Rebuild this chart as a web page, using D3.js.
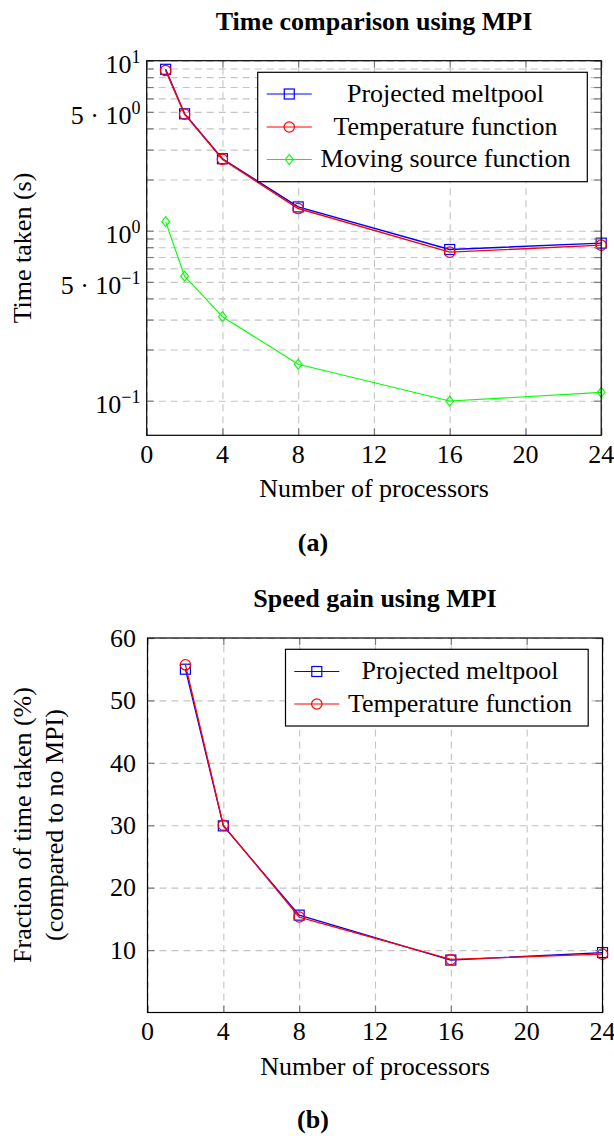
<!DOCTYPE html>
<html><head><meta charset="utf-8">
<script src="https://cdn.jsdelivr.net/npm/d3@7"></script>
<style>
body{margin:0;background:#fff;}
text{font-family:"Liberation Serif","Times New Roman",serif;fill:#000;}
</style>
</head><body>
<svg id="c" width="614" height="1136" font-family="Liberation Serif, serif"></svg>
<script>
// ---------- data ----------
const procs = [1, 2, 4, 8, 16, 24];
const projectedTime = [8.9, 4.87, 2.65, 1.38, 0.775, 0.845];
const temperatureTime = [8.75, 4.85, 2.63, 1.35, 0.748, 0.822];
const movingSourceTime = [1.13, 0.54, 0.312, 0.164, 0.0995, 0.112];

const gainProcs = [2, 4, 8, 16, 24];
const projectedGain = [55.0, 29.9, 15.6, 8.4, 9.6];
const temperatureGain = [55.7, 30.0, 15.3, 8.5, 9.35];

const xTickValues = [0, 4, 8, 12, 16, 20, 24];
const timeTickValues = [0.1, 0.5, 1, 5, 10];
const timeTickBase = ["10", "5 · 10", "10", "5 · 10", "10"];
const timeTickExp = ["−1", "−1", "0", "0", "1"];
const timeGridValues = [0.1, 0.2, 0.3, 0.4, 0.5, 0.6, 0.7, 0.8, 0.9, 1, 2, 3, 4, 5, 6, 7, 8, 9, 10];
const gainTickValues = [10, 20, 30, 40, 50, 60];

const seriesNames = ["Projected meltpool", "Temperature function", "Moving source function"];

// ---------- styles ----------
const FS = 26;
const BLUE = "#0000ff", RED = "#ff0000", GREEN = "#00ff00";
const GRID = "#c4c4c4", TICK = "#7a7a7a";

const svg = d3.select("#c");

function marker(g, type, color, x, y) {
  if (type === "square") {
    g.append("rect").attr("x", x - 5).attr("y", y - 5).attr("width", 10).attr("height", 10)
      .attr("fill", "none").attr("stroke", color).attr("stroke-width", 1.2);
  } else if (type === "circle") {
    g.append("circle").attr("cx", x).attr("cy", y).attr("r", 5.2)
      .attr("fill", "none").attr("stroke", color).attr("stroke-width", 1.2);
  } else {
    g.append("path").attr("d", `M${x},${y - 5}L${x + 3.9},${y}L${x},${y + 5}L${x - 3.9},${y}Z`)
      .attr("fill", "none").attr("stroke", color).attr("stroke-width", 1.1);
  }
}

function frame(g, x, y, xGridVals, yGridVals) {
  const [x0, x1] = x.range();
  const [y0, y1] = y.range();
  const w = x1 - x0, h = y0 - y1;
  const gx = g.append("g").attr("transform", `translate(0,${y0})`)
    .call(d3.axisBottom(x).tickValues(xGridVals).tickSize(-h).tickFormat(""));
  const gy = g.append("g").attr("transform", `translate(${x0},0)`)
    .call(d3.axisLeft(y).tickValues(yGridVals).tickSize(-w).tickFormat(""));
  [gx, gy].forEach(a => {
    a.select(".domain").remove();
    a.selectAll("line").attr("stroke", GRID).attr("stroke-width", 1.1).attr("stroke-dasharray", "7,5");
  });
}

function ticks(g, x, y, xVals, yVals) {
  const [x0, x1] = x.range();
  const [y0, y1] = y.range();
  const axes = [
    g.append("g").attr("transform", `translate(0,${y0})`).call(d3.axisBottom(x).tickValues(xVals).tickSize(-7).tickFormat("")),
    g.append("g").attr("transform", `translate(0,${y1})`).call(d3.axisTop(x).tickValues(xVals).tickSize(-7).tickFormat("")),
    g.append("g").attr("transform", `translate(${x0},0)`).call(d3.axisLeft(y).tickValues(yVals).tickSize(-7).tickFormat("")),
    g.append("g").attr("transform", `translate(${x1},0)`).call(d3.axisRight(y).tickValues(yVals).tickSize(-7).tickFormat(""))
  ];
  axes.forEach(a => {
    a.select(".domain").remove();
    a.selectAll("line").attr("stroke", TICK).attr("stroke-width", 1.2);
  });
  g.append("rect").attr("x", x0).attr("y", y1).attr("width", x1 - x0).attr("height", y0 - y1)
    .attr("fill", "none").attr("stroke", "#000").attr("stroke-width", 1.2);
}

function series(g, x, y, xs, ys, color, type, lw) {
  const line = d3.line().x((d, i) => x(xs[i])).y(d => y(d));
  g.append("path").datum(ys).attr("d", line).attr("fill", "none")
    .attr("stroke", color).attr("stroke-width", lw).attr("stroke-linejoin", "round");
  ys.forEach((v, i) => marker(g, type, color, x(xs[i]), y(v)));
}

function xLabels(g, x, baseline) {
  xTickValues.forEach(v => {
    g.append("text").attr("x", x(v)).attr("y", baseline).attr("text-anchor", "middle")
      .attr("font-size", FS).text(v);
  });
}

function legend(g, x0, y0, x1, y1, rows, lineX0, lineX1, textCx) {
  g.append("rect").attr("x", x0).attr("y", y0).attr("width", x1 - x0).attr("height", y1 - y0)
    .attr("fill", "#fff").attr("stroke", "#000").attr("stroke-width", 1.2);
  rows.forEach(r => {
    g.append("line").attr("x1", lineX0).attr("x2", lineX1).attr("y1", r.y).attr("y2", r.y)
      .attr("stroke", r.color).attr("stroke-width", 1.2);
    marker(g, r.type, r.color, (lineX0 + lineX1) / 2, r.y);
    g.append("text").attr("x", textCx).attr("y", r.y + 7.6).attr("text-anchor", "middle")
      .attr("font-size", FS).text(r.name);
  });
}

// ---------- chart (a) ----------
const xA = d3.scaleLinear().domain([0, 24]).range([146.7, 601.2]);
const yA = d3.scaleLog().domain([Math.pow(10, -1.2035), 10]).range([435.3, 60.7]);
const gA = svg.append("g");

svg.append("text").attr("x", 374).attr("y", 30).attr("text-anchor", "middle")
  .attr("font-size", 26).attr("font-weight", "bold").text("Time comparison using MPI");

frame(gA, xA, yA, xTickValues, timeGridValues);
series(gA, xA, yA, procs, projectedTime, BLUE, "square", 1.4);
series(gA, xA, yA, procs, temperatureTime, RED, "circle", 1.4);
series(gA, xA, yA, procs, movingSourceTime, GREEN, "diamond", 1.1);
ticks(gA, xA, yA, xTickValues, timeGridValues);

timeTickValues.forEach((v, i) => {
  const t = gA.append("text").attr("x", 140.5).attr("y", yA(v) + 12.3).attr("text-anchor", "end")
    .attr("font-size", FS);
  t.append("tspan").text(timeTickBase[i]);
  t.append("tspan").attr("dy", -10.5).attr("font-size", 18).text(timeTickExp[i]);
});
xLabels(gA, xA, 463);

gA.append("text").attr("transform", "translate(31,248) rotate(-90)").attr("text-anchor", "middle")
  .attr("font-size", FS).text("Time taken (s)");
gA.append("text").attr("x", 374).attr("y", 497).attr("text-anchor", "middle")
  .attr("font-size", FS).text("Number of processors");
svg.append("text").attr("x", 313).attr("y", 551).attr("text-anchor", "middle")
  .attr("font-size", 26).attr("font-weight", "bold").text("(a)");

legend(gA, 257.7, 72.3, 587.3, 181.7, [
  {name: seriesNames[0], color: BLUE, type: "square", y: 94},
  {name: seriesNames[1], color: RED, type: "circle", y: 127},
  {name: seriesNames[2], color: GREEN, type: "diamond", y: 159.5}
], 266.7, 311.8, 445.5);

// ---------- chart (b) ----------
const xB = d3.scaleLinear().domain([0, 24]).range([147.5, 602.5]);
const yB = d3.scaleLinear().domain([0, 60]).range([1012.5, 638]);
const gB = svg.append("g");

svg.append("text").attr("x", 375).attr("y", 607).attr("text-anchor", "middle")
  .attr("font-size", 26).attr("font-weight", "bold").text("Speed gain using MPI");

frame(gB, xB, yB, xTickValues, gainTickValues);
series(gB, xB, yB, gainProcs, projectedGain, BLUE, "square", 1.3);
series(gB, xB, yB, gainProcs, temperatureGain, RED, "circle", 1.3);
ticks(gB, xB, yB, xTickValues, gainTickValues);

gainTickValues.forEach(v => {
  gB.append("text").attr("x", 136).attr("y", yB(v) + 8.7).attr("text-anchor", "end")
    .attr("font-size", FS).text(v);
});
xLabels(gB, xB, 1040);

gB.append("text").attr("transform", "translate(31,825) rotate(-90)").attr("text-anchor", "middle")
  .attr("font-size", FS).text("Fraction of time taken (%)");
gB.append("text").attr("transform", "translate(63,825) rotate(-90)").attr("text-anchor", "middle")
  .attr("font-size", FS).text("(compared to no MPI)");
gB.append("text").attr("x", 375).attr("y", 1075).attr("text-anchor", "middle")
  .attr("font-size", FS).text("Number of processors");
svg.append("text").attr("x", 313).attr("y", 1128).attr("text-anchor", "middle")
  .attr("font-size", 26).attr("font-weight", "bold").text("(b)");

legend(gB, 285.5, 649.3, 588.2, 726, [
  {name: seriesNames[0], color: BLUE, type: "square", y: 671.5},
  {name: seriesNames[1], color: RED, type: "circle", y: 704}
], 294.3, 339.3, 460);
</script>
</body></html>
